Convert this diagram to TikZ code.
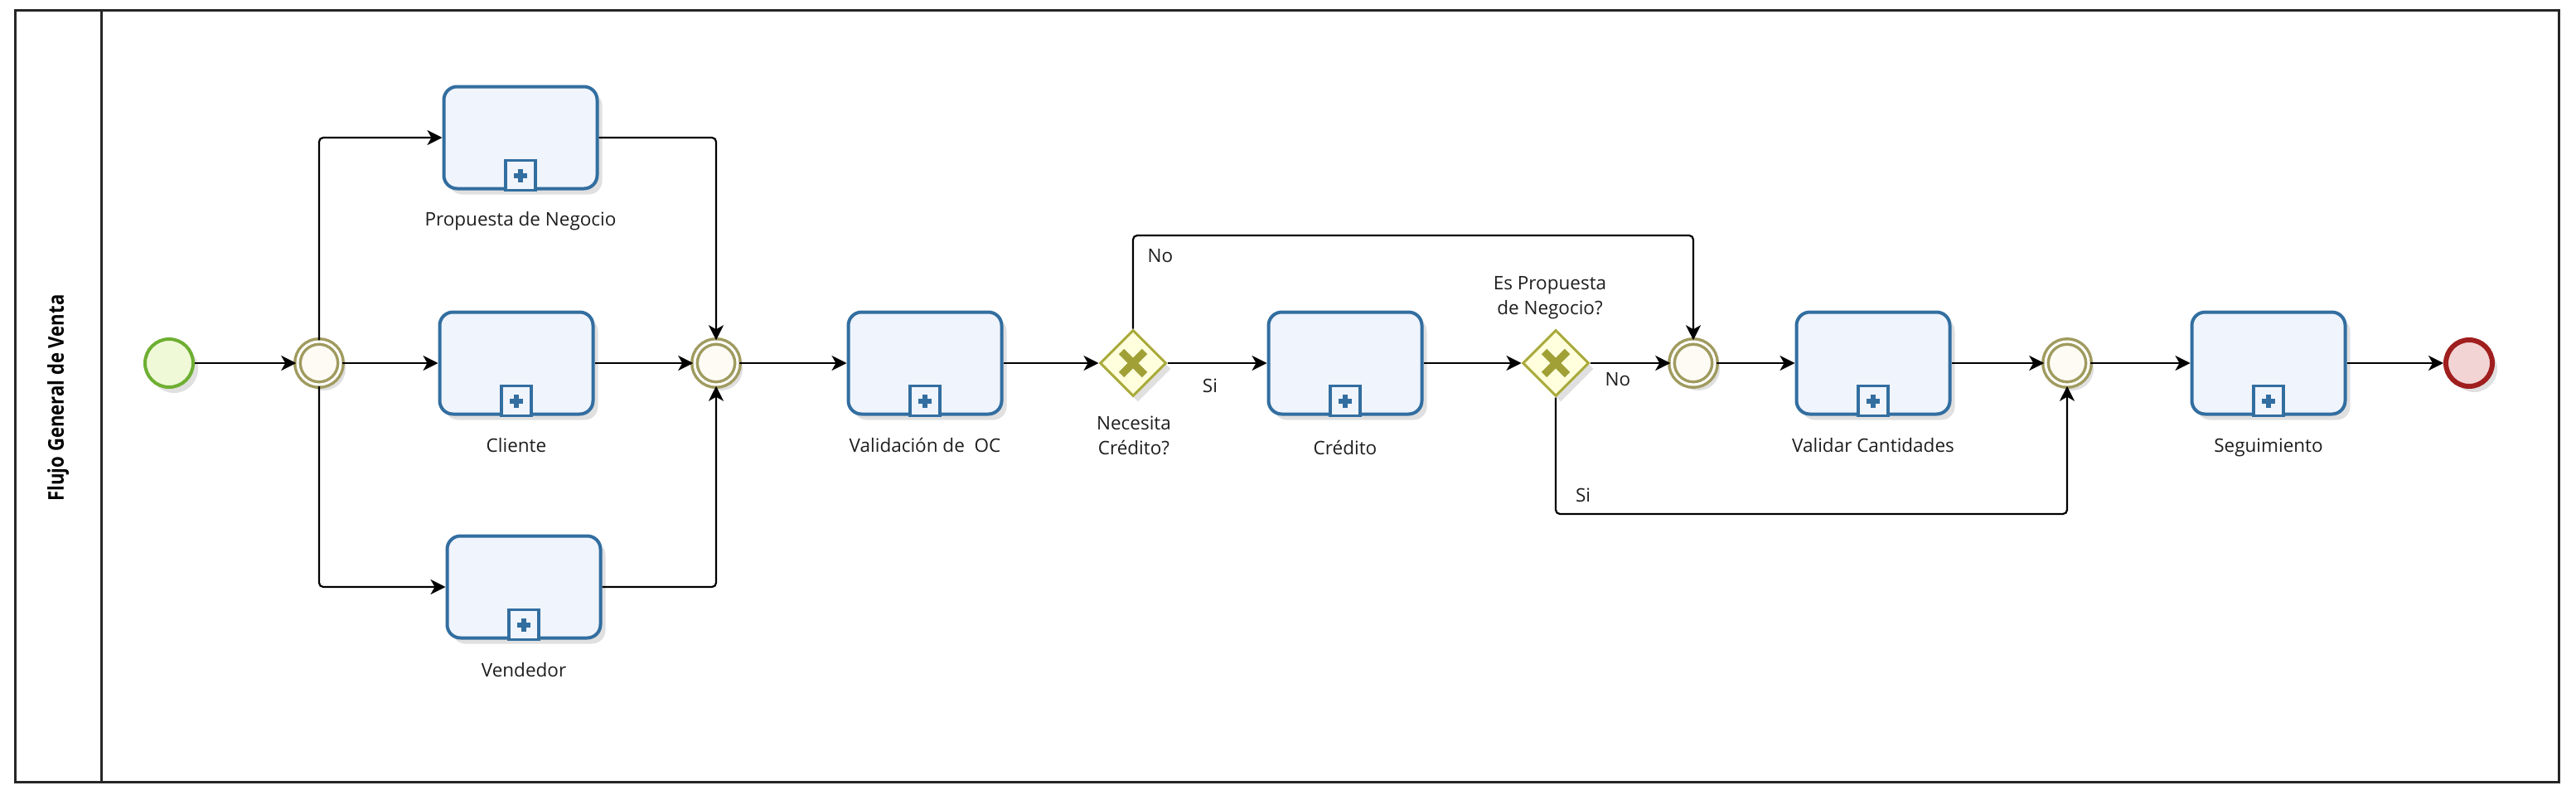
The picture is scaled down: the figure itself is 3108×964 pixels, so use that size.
\documentclass[tikz,border=0pt]{standalone}
\usepackage{fontspec}
\setmainfont{Open Sans}
\usetikzlibrary{shapes.geometric,arrows.meta,shadows,calc}
\definecolor{taskblue}{RGB}{50,110,160}
\definecolor{taskfill}{RGB}{240,244,252}
\definecolor{startgreen}{RGB}{110,175,50}
\definecolor{startfill}{RGB}{240,249,215}
\definecolor{endred}{RGB}{160,30,30}
\definecolor{endfill}{RGB}{242,212,212}
\definecolor{interolive}{RGB}{160,155,95}
\definecolor{interfill}{RGB}{253,251,244}
\definecolor{gwolive}{RGB}{170,170,60}
\definecolor{gwfill}{RGB}{255,255,222}
\definecolor{xcol}{RGB}{160,160,55}
\definecolor{txt}{RGB}{30,30,30}
\newcommand\subprocmark[1]{%
  \draw[taskblue,line width=3.5pt,fill=taskfill] ([xshift=-18pt]#1.south) rectangle ([xshift=18pt,yshift=36pt]#1.south);
  \fill[taskblue] ([xshift=-8pt,yshift=15pt]#1.south) rectangle ([xshift=8pt,yshift=21pt]#1.south);
  \fill[taskblue] ([xshift=-3pt,yshift=10pt]#1.south) rectangle ([xshift=3pt,yshift=26pt]#1.south);
}
\begin{document}
\begin{tikzpicture}[x=1pt,y=-1pt,
  shad/.style={drop shadow={shadow xshift=6pt,shadow yshift=-7pt,opacity=0.12,fill=black}},
  task/.style={draw=taskblue,line width=4pt,fill=taskfill,rounded corners=16pt,
    minimum width=185pt,minimum height=123pt,inner sep=0pt,shad},
  lbl/.style={font=\fontsize{22.5}{30}\selectfont,text=txt,inner sep=0pt,align=center},
  startev/.style={circle,draw=startgreen,line width=4pt,fill=startfill,minimum size=58pt,inner sep=0pt,shad},
  endev/.style={circle,draw=endred,line width=6pt,fill=endfill,minimum size=56pt,inner sep=0pt,shad},
  interev/.style={circle,draw=interolive,line width=3.5pt,double=white,double distance=3pt,
    fill=interfill,minimum size=52pt,inner sep=0pt,shad},
  gw/.style={diamond,draw=gwolive,line width=3pt,fill=gwfill,minimum width=80pt,minimum height=80pt,
    inner sep=0pt,shad,
    path picture={\draw[xcol,line width=9pt]
      ($(path picture bounding box.center)+(-14pt,-14pt)$) -- ++(28pt,28pt)
      ($(path picture bounding box.center)+(-14pt,14pt)$) -- ++(28pt,-28pt);}},
  flow/.style={draw=black,line width=2.2pt,-{Stealth[length=18pt,width=18pt,inset=5pt]},rounded corners=5pt},
  pool/.style={draw=black!85,line width=3pt}
]
\useasboundingbox (0,0) rectangle (3108,964);
\fill[white] (0,0) rectangle (3108,964);
% pool
\draw[pool] (18,12) rectangle (3087,943);
\draw[pool] (122,12) -- (122,943);
\node[rotate=90,font=\bfseries\fontsize{26}{30}\selectfont,text=black,inner sep=0pt] (poolname) at (70,480) {\scalebox{0.85}[1]{Flujo General de Venta}};

% nodes
\node[startev] (start) at (204,438) {};
\node[interev] (e1) at (385,438) {};
\node[task] (prop) at (628,166) {};
\node[task] (cli) at (623,438) {};
\node[task] (vend) at (632,708) {};
\node[interev] (merge) at (864,438) {};
\node[task] (val) at (1116,438) {};
\node[gw] (x1) at (1367,438) {};
\node[task] (cred) at (1623,438) {};
\node[gw] (x2) at (1877,438) {};
\node[interev] (e2) at (2043,438) {};
\node[task] (vc) at (2260,438) {};
\node[interev] (e3) at (2494,438) {};
\node[task] (seg) at (2737,438) {};
\node[endev] (endev) at (2979,438) {};

\subprocmark{prop}
\subprocmark{cli}
\subprocmark{vend}
\subprocmark{val}
\subprocmark{cred}
\subprocmark{vc}
\subprocmark{seg}

% labels
\node[lbl] (lprop) at (628,267) {Propuesta de Negocio};
\node[lbl] (lcli) at (623,537) {Cliente};
\node[lbl] (lvend) at (632,808) {Vendedor};
\node[lbl] (lval) at (1116,537) {Validación de~~OC};
\node[lbl] (lx1) at (1368,525) {Necesita\\Crédito?};
\node[lbl] (lcred) at (1623,540) {Crédito};
\node[lbl] (lx2) at (1870,359) {Es Propuesta\\de Negocio?};
\node[lbl] (lvc) at (2260,537) {Validar Cantidades};
\node[lbl] (lseg) at (2737,540) {Seguimiento};

% coordinates for routing
\coordinate (topY) at (0,284);
\coordinate (botY) at (0,620);

% connectors
\draw[flow] (start) -- (e1);
\draw[flow] (e1) -- (cli);
\draw[flow] (e1.north) |- (prop.west);
\draw[flow] (e1.south) |- (vend.west);
\draw[flow] (prop.east) -| (merge.north);
\draw[flow] (cli) -- (merge);
\draw[flow] (vend.east) -| (merge.south);
\draw[flow] (merge) -- (val);
\draw[flow] (val) -- (x1);
\draw[flow] (x1) -- (cred);
\draw[flow] (x1.north) -- (x1.north |- topY) -| (e2.north);
\draw[flow] (cred) -- (x2);
\draw[flow] (x2) -- (e2);
\draw[flow] (e2) -- (vc);
\draw[flow] (vc) -- (e3);
\draw[flow] (x2.south) -- (x2.south |- botY) -| (e3.south);
\draw[flow] (e3) -- (seg);
\draw[flow] (seg) -- (endev);

% flow labels
\node[lbl] (lsi1) at (1460,465) {Si};
\node[lbl] (lno1) at (1400,309) {No};
\node[lbl] (lno2) at (1952,458) {No};
\node[lbl] (lsi2) at (1910,597) {Si};
\end{tikzpicture}
\end{document}
